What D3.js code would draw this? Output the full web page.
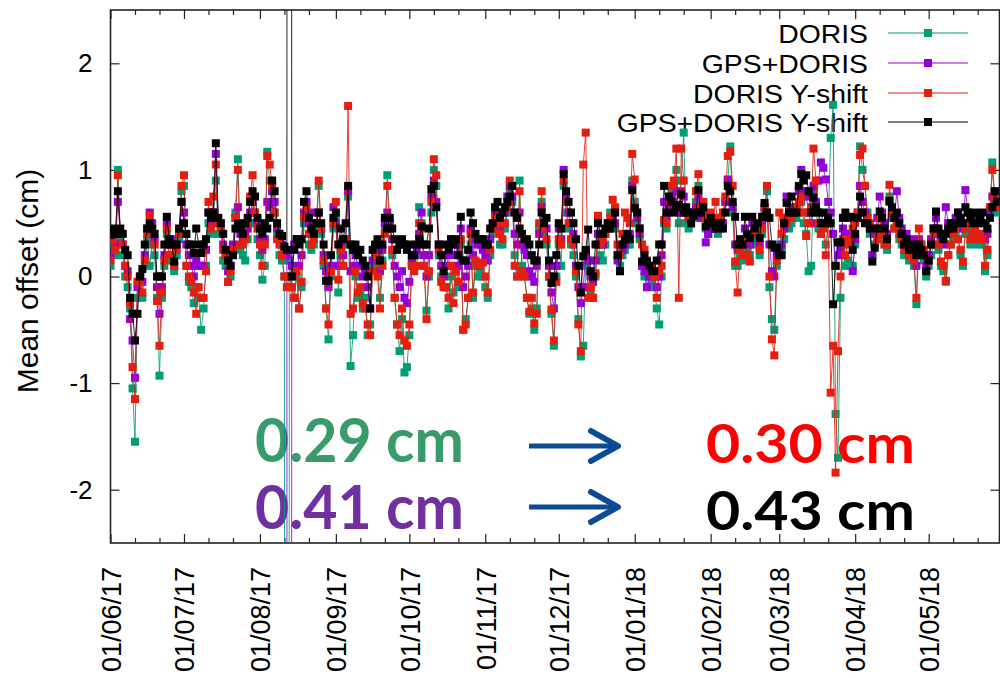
<!DOCTYPE html>
<html lang="en">
<head>
<meta charset="UTF-8">
<script src="https://d3js.org/d3.v7.min.js"></script>
<style>
  body { margin: 0; background: #fff; }
  svg { display: block; font-family: 'Liberation Sans', Arial, sans-serif; }
</style>
</head>
<body>
<div id="chart"></div>
<script>
// one value per day, first day is 01/06/17
const firstDay = Date.UTC(2017, 5, 1);
const lastVisible = Date.UTC(2018, 4, 29, 22);

const doris = [
  0.1, 0.3, 0.2, 1.0, 0.35, 0.2, 0, -0.1, -0.3, -1.05,
  -1.55, -0.2, -0.05, -0.2, 0.1, 0.35, 0.1, 0.3, 0.2, -0.2,
  -0.93, -0.2, 0.1, 0.4, 0.15, 0.2, 0.05, 0.2, 0.35, 0.8,
  0.85, 0.1, -0.05, -0.1, -0.25, -0.1, -0.2, -0.5, -0.3, 0.1,
  0.5, 0.4, 0.55, 0.9, 0.4, 0.45, 0.15, 0.1, -0.05, 0,
  0.25, 0.6, 1.1, 0.25, 0.2, 0.15, 0.35, 0.5, 0.7, 0.5,
  0.35, 0.2, -0.03, 0.1, 1.17, 0.9, 0.8, 0.6, 0.4, 0.2,
  0.15, 0, -60, 0.15, -0.1, -0.2, 0, -0.3, -0.1, 0.5,
  0.6, 0.3, 0.25, 0.3, 0.45, 0.85, 0.4, 0.1, -0.3, -0.59,
  0, 0.45, 0.55, -0.15, 0.2, 0.1, 0.3, 0.75, -0.84, -0.55,
  0, -0.2, -0.15, -0.3, -0.2, -0.55, -0.45, 0.1, 0.2, 0.1,
  -0.2, 0.15, 0.45, 0.95, 0.5, 0.2, -0.2, -0.45, -0.7, -0.4,
  -0.9, -0.85, -0.55, 0.1, 0.1, 0.2, 0.65, 0.5, 0.1, -0.32,
  0, 0.6, 1.0, 0.85, 0.2, 0, -0.1, -0.1, -0.3, 0,
  -0.15, 0.1, -0.1, 0.3, -0.5, -0.4, -0.2, 0.3, -0.2, 0.1,
  0, 0.05, 0, -0.1, -0.2, 0.2, 0.4, 0.5, 0.45, 0.3,
  0.3, 0.45, 0.6, 0.8, 0.7, 0.2, 0, 0.9, 0.1, 0,
  -0.2, -0.35, -0.3, -0.5, -0.3, 0.45, 0.7, 0.4, 0.3, 0,
  -0.35, -0.65, 0, 0.3, 0.1, 0.85, 0.6, 0.45, 0.3, 0.2,
  0, -0.4, -0.75, -0.65, 0.1, -0.1, -0.15, -0.2, 0, 0.3,
  0.2, 0.15, 0.3, 0.5, 0.6, 0.55, 0.45, 0.2, 0.1, 0.2,
  0.25, 0.3, 0.3, 0.9, 0.7, 0.5, 0.35, 0.1, 0, -0.1,
  0, -0.05, -0.1, -0.3, -0.45, 0, 0.5, 0.45, 0.6, 0.8,
  0.85, 1.0, 0.5, 0.9, 1.35, 0.5, 0.45, 0.5, 0.55, 0.7,
  0.85, 0.55, 0.6, 0.45, 0.4, 0.5, 0.45, 0.55, 0.4, 0.45,
  0.5, 0.7, 0.9, 1.22, 0.6, 0.1, 0.1, 0.2, 0.15, 0.3,
  0.25, 0.2, 0.35, 0.3, 0.35, 0.2, 0.4, 0.6, 0.8, -0.1,
  -0.4, -0.5, 0.1, 0.3, 0.25, 0.35, 0.5, 0.45, 0.5, 0.55,
  0.55, 0.6, 0.7, 0.5, 0.4, 0.05, 0.1, 0.8, 0.6, 0.45,
  0.4, 0.5, 0.3, 0.5, 1.3, 1.61, -1.29, -1.7, -0.2, 0.3,
  0.1, 0.15, 0.1, 0.1, 0.3, 0.6, 1.22, 1.0, 0.85, 0.6,
  0.4, 0.2, 0.3, 0.4, 0.45, 0.35, 0.3, 0.25, 0.75, 0.55,
  0.45, 0.5, 0.35, 0.3, 0.2, 0.25, 0.15, 0.2, 0.1, -0.26,
  0.3, 0.2, 0.15, 0, 0.1, 0.2, 0.3, 0.4, 0.25, 0.1,
  0.05, -0.05, 0.2, 0.3, 0.35, 0.4, 0.35, 0.2, 0.1, 0.4,
  0.45, 0.3, 0.35, 0.4, 0.3, 0.35, 0.3, 0.05, 0.2, 0.6,
  1.07, 0.7, 0.6
];

const gpsDoris = [
  0.2, 0.35, 0.3, 0.7, 0.4, 0.3, 0.1, 0.05, -0.4, -0.6,
  -0.95, -0.1, 0, -0.05, 0.2, 0.45, 0.6, 0.5, 0.35, -0.1,
  -0.35, -0.1, 0.2, 0.5, 0.3, 0.35, 0.1, 0.3, 0.4, 0.7,
  0.6, 0.3, 0.2, 0.1, 0, 0.15, 0.1, 0.1, 0.1, 0.25,
  0.6, 0.5, 0.6, 1.15, 0.5, 0.5, 0.3, 0.2, 0.05, 0.1,
  0.3, 0.55, 0.65, 0.4, 0.35, 0.4, 0.45, 0.6, 0.7, 0.6,
  0.5, 0.35, 0.25, 0.35, 0.7, 0.65, 0.8, 0.7, 0.45, 0.35,
  0.3, 0.2, 0.2, -60, 0.1, 0.3, 0.35, 0.1, 0.2, 0.6,
  0.7, 0.5, 0.6, 0.5, 0.5, 0.6, 0.45, 0.2, 0.05, -0.1,
  0.1, 0.65, 0.5, 0.1, 0.3, 0.2, 0.35, 0.8, 0.05, 0.1,
  0.2, 0.1, 0.1, 0, 0.05, -0.1, -0.3, 0.15, 0.25, 0.25,
  0.05, 0.25, 0.5, 0.6, 0.5, 0.35, 0.1, 0, -0.1, 0.05,
  -0.2, -0.25, -0.05, 0.15, 0.2, 0.25, 0.4, 0.6, 0.2, 0,
  0.2, 0.75, 0.9, 0.7, 0.3, 0.1, 0, 0.2, 0.1, 0.35,
  0.2, 0.3, 0.1, 0.45, -0.1, 0, 0.1, 0.45, 0.2, 0.35,
  0.3, 0.3, 0.25, 0.2, 0.15, 0.35, 0.45, 0.6, 0.6, 0.45,
  0.5, 0.6, 0.75, 0.85, 0.75, 0.4, 0.3, 0.6, 0.3, 0.25,
  0.2, 0.05, 0, -0.05, 0.1, 0.4, 0.65, 0.5, 0.45, 0.1,
  -0.15, -0.3, 0.1, 0.45, 0.35, 1.0, 0.75, 0.6, 0.5, 0.4,
  0.1, -0.1, -0.25, -0.1, 0.2, 0.15, 0, -0.05, 0.15, 0.4,
  0.35, 0.3, 0.4, 0.45, 0.5, 0.55, 0.5, 0.15, 0.05, 0.25,
  0.3, 0.35, 0.4, 0.85, 0.65, 0.55, 0.4, 0.1, 0.05, -0.1,
  0, 0.05, 0, -0.1, 0, 0.2, 0.7, 0.55, 0.65, 0.75,
  0.7, 0.8, 0.6, 0.8, 0.75, 0.6, 0.55, 0.5, 0.6, 0.65,
  0.75, 0.55, 0.6, 0.32, 0.4, 0.5, 0.45, 0.5, 0.45, 0.5,
  0.5, 0.7, 0.91, 0.85, 0.65, 0.3, 0.25, 0.3, 0.3, 0.45,
  0.35, 0.3, 0.5, 0.45, 0.5, 0.3, 0.5, 0.65, 0.6, 0.3,
  0.05, 0, 0.2, 0.25, 0.3, 0.45, 0.75, 0.6, 0.65, 0.6,
  0.65, 0.8, 1.0, 0.8, 0.75, 0.6, 0.5, 0.85, 0.7, 0.9,
  1.07, 1.02, 0.91, 0.7, 0.6, 0.4, 0.1, 0.2, 0.25, 0.45,
  0.4, 0.4, 0.35, 0.05, 0.35, 0.55, 0.85, 0.7, 0.6, 0.55,
  0.45, 0.2, 0.4, 0.55, 0.75, 0.6, 0.5, 0.4, 0.7, 0.6,
  0.55, 0.8, 0.55, 0.45, 0.3, 0.4, 0.3, 0.35, 0.2, 0.1,
  0.35, 0.3, 0.2, 0.1, 0.2, 0.35, 0.45, 0.55, 0.4, 0.35,
  0.3, 0.65, 0.5, 0.45, 0.5, 0.55, 0.6, 0.5, 0.45, 0.81,
  0.6, 0.5, 0.55, 0.55, 0.5, 0.55, 0.5, 0.35, 0.4, 0.6,
  0.75, 0.8, 0.7
];

const dorisShift = [
  0.15, 0.35, 0.25, 0.95, 0.4, 0.3, 0.1, 0, -0.25, -0.85,
  -1.15, -0.05, -0.05, -0.15, 0.15, 0.4, 0.57, 0.45, 0.3, -0.23,
  -0.65, -0.15, 0.15, 0.45, 0.2, 0.3, 0.1, 0.25, 0.4, 0.85,
  0.95, 0.1, 0, -0.05, -0.15, -0.35, -0.1, -0.2, -0.2, 0.05,
  0.7, 0.45, 0.75, 1.05, 0.5, 0.45, 0.25, 0.2, -0.05, 0.05,
  0.25, 0.55, 1.0, 0.3, 0.3, 0.35, 0.5, 0.75, 0.95, 0.6,
  0.45, 0.3, 0.1, 0.3, 1.13, 1.05, 0.85, 0.6, 0.35, 0.3,
  0.2, 0, -0.1, 0, -0.1, -0.2, 0.05, -0.3, -0.05, 0.55,
  0.65, 0.4, 0.3, 0.35, 0.5, 0.9, 0.45, 0.15, -0.3, -0.45,
  0.05, 0.5, 0.7, -0.03, 0.25, 0.1, 0.35, 1.6, -0.35, -0.3,
  0.05, -0.15, -0.1, -0.25, -0.3, -0.45, -0.55, 0.05, 0.2, 0,
  -0.3, 0.1, 0.4, 0.85, 0.45, 0.25, -0.2, -0.45, -0.55, -0.3,
  -0.6, -0.65, -0.45, 0.1, 0.05, 0.1, 0.5, 0.45, 0.1, -0.4,
  0.05, 0.7, 1.1, 0.95, 0.25, -0.05, -0.1, -0.1, -0.2, 0.1,
  -0.25, 0.05, -0.05, 0.35, -0.5, -0.45, -0.2, 0.4, -0.15, 0.15,
  0.1, 0.1, 0.13, 0, -0.15, 0.25, 0.45, 0.55, 0.5, 0.4,
  0.35, 0.5, 0.65, 0.9, 0.85, 0.1, 0, 0.8, 0.05, 0,
  -0.2, -0.33, -0.2, -0.44, -0.35, 0.5, 0.8, 0.45, 0.35, 0,
  -0.31, -0.6, -0.05, 0.35, 0.3, 0.9, 0.7, 0.5, 0.35, 0.3,
  0.05, -0.45, -0.7, 1.05, 1.35, -0.2, -0.1, -0.2, 0.03, 0.57,
  0.3, 0.35, 0.4, 0.45, 0.55, 0.72, 0.65, 0.3, 0.2, 0.4,
  0.6, 0.55, 0.5, 1.15, 0.91, 0.6, 0.45, 0.3, 0.25, 0.15,
  0.1, 0.1, 0, -0.2, 0.05, 0.1, 0.53, 0.5, 0.7, 0.85,
  0.9, 1.2, -0.2, 1.2, 0.9, 0.6, 0.55, 0.5, 0.6, 0.8,
  0.96, 0.65, 0.7, 0.55, 0.5, 0.6, 0.55, 0.7, 0.45, 0.55,
  0.6, 0.75, 1.13, 1.17, 0.85, 0.14, -0.15, 0.25, 0.2, 0.35,
  0.2, 0.14, 0.4, 0.45, 0.4, 0.25, 0.45, 0.65, 0.85, 0,
  -0.59, -0.74, 0.15, 0.6, 0.4, 0.55, 0.5, 0.55, 0.55, 0.6,
  0.65, 0.7, 0.75, 0.6, 0.38, 0.5, 0.65, 1.2, 0.9, 0.5,
  0.4, 0.45, 0.2, 0.5, -1.09, -0.65, -1.84, -0.7, 0, 0.35,
  0.2, 0.3, 0.35, 0.45, 0.5, 0.6, 1.14, 1.2, 0.85, 0.55,
  0.5, 0.45, 0.45, 0.35, 0.55, 0.4, 0.3, 0.3, 0.86, 0.6,
  0.45, 0.5, 0.4, 0.35, 0.25, 0.3, 0.2, 0.25, 0.15, -0.2,
  0.45, 0.3, 0.25, 0.05, 0.15, 0.3, 0.4, 0.45, 0.3, 0.14,
  0.1, -0.04, 0.2, 0.3, 0.4, 0.45, 0.35, 0.25, 0.14, 0.45,
  0.5, 0.35, 0.4, 0.45, 0.35, 0.4, 0.35, 0.1, 0.25, 0.65,
  1.0, 0.75, 0.65
];

const gpsDorisShift = [
  0.39, 0.45, 0.4, 0.8, 0.45, 0.4, 0.25, 0.2, -0.2, -0.35,
  -0.6, -0.35, 0, 0.07, 0.3, 0.45, 0.5, 0.45, 0.4, 0,
  0, 0, 0.3, 0.56, 0.35, 0.3, 0.14, 0.3, 0.45, 0.7,
  0.5, 0.4, 0.3, 0.3, 0.22, 0.45, 0.3, 0.22, 0.3, 0.35,
  0.6, 0.55, 0.6, 1.25, 0.55, 0.5, 0.4, 0.25, 0.15, 0.1,
  0.2, 0.45, 0.5, 0.45, 0.4, 0.5, 0.55, 0.7, 0.8, 0.75,
  0.55, 0.45, 0.4, 0.5, 0.45, 0.55, 0.9, 0.8, 0.5, 0.4,
  0.38, 0.28, 0.25, 60, 0, 0.25, 0.35, 0.3, 0.35, 0.7,
  0.8, 0.55, 0.45, 0.4, 0.5, 0.6, 0.5, 0.3, -0.04, -0.04,
  0.2, 0.55, 0.6, 0.3, 0.45, 0.35, 0.5, 0.85, 0.3, 0.25,
  0.3, 0.2, 0.25, 0.15, 0.1, 0, -0.3, 0.25, 0.3, 0.35,
  0.15, 0.3, 0.55, 0.45, 0.55, 0.45, 0.35, 0.25, 0.3, 0.35,
  0.3, 0.25, 0.3, 0.2, 0.2, 0.3, 0.35, 0.47, 0.3, 0.3,
  0.45, 0.82, 0.85, 0.65, 0.3, 0.2, 0.05, 0.3, 0.25, 0.35,
  0.3, 0.35, 0.2, 0.56, 0.15, 0.15, 0.25, 0.6, 0.5, 0.4,
  0.35, 0.35, 0.35, 0.3, 0.3, 0.45, 0.5, 0.65, 0.7, 0.55,
  0.6, 0.65, 0.7, 0.75, 0.85, 0.6, 0.55, 0.45, 0.4, 0.35,
  0.35, 0.3, 0.2, 0.15, 0.15, 0.3, 0.6, 0.5, 0.55, 0.15,
  -0.06, 0, 0.2, 0.5, 0.45, 0.96, 0.8, 0.7, 0.6, 0.5,
  0.35, 0.1, -0.15, 0.19, 0.25, 0.44, 0.05, 0, 0.3, 0.5,
  0.4, 0.4, 0.45, 0.5, 0.45, 0.5, 0.6, 0.2, 0.05, 0.3,
  0.35, 0.4, 0.35, 0.81, 0.64, 0.6, 0.45, 0.14, 0.2, 0.14,
  0.1, 0.05, 0.05, 0.15, 0.3, 0.3, 0.85, 0.6, 0.75, 0.7,
  0.6, 0.65, 0.67, 0.77, 0.6, 0.65, 0.6, 0.5, 0.57, 0.6,
  0.81, 0.6, 0.65, 0.47, 0.5, 0.55, 0.5, 0.45, 0.5, 0.5,
  0.45, 0.6, 0.85, 0.8, 0.7, 0.56, 0.3, 0.35, 0.3, 0.56,
  0.4, 0.36, 0.56, 0.45, 0.5, 0.36, 0.56, 0.69, 0.6, 0.55,
  0.3, 0.27, 0.27, 0.2, 0.2, 0.5, 0.69, 0.6, 0.75, 0.6,
  0.6, 0.85, 0.96, 0.9, 0.95, 0.8, 0.6, 0.74, 0.65, 0.6,
  0.5, 0.6, 0.5, 0.55, 0.5, -0.26, 0.1, 0.32, 0.32, 0.55,
  0.6, 0.55, 0.56, 0.25, 0.4, 0.55, 0.75, 0.6, 0.5, 0.5,
  0.45, 0.14, 0.27, 0.45, 0.61, 0.55, 0.45, 0.35, 0.71, 0.65,
  0.55, 0.6, 0.5, 0.4, 0.3, 0.35, 0.25, 0.3, 0.25, 0.2,
  0.3, 0.25, 0.2, 0.05, 0.15, 0.3, 0.45, 0.61, 0.45, 0.4,
  0.35, 0.4, 0.45, 0.5, 0.45, 0.5, 0.6, 0.55, 0.5, 0.65,
  0.6, 0.55, 0.5, 0.6, 0.5, 0.55, 0.6, 0.5, 0.45, 0.55,
  0.65, 0.8, 0.7
];

const seriesNames = ["DORIS", "GPS+DORIS", "DORIS Y-shift", "GPS+DORIS Y-shift"];
const seriesColors = ["#009e73", "#9400d3", "#e51e10", "#000000"];
const seriesValues = [doris, gpsDoris, dorisShift, gpsDorisShift];
const yTicks = [-2, -1, 0, 1, 2];

// the four RMS numbers written over the plot
const noteTexts = ["0.29 cm", "0.41 cm", "0.30 cm", "0.43 cm"];
const noteColors = ["#379c69", "#7030a0", "#ff0000", "#000000"];

const width = 1000, height = 678;
const pLeft = 110.5, pRight = 999.5, pTop = 10, pBottom = 543;

const svg = d3.select("#chart").append("svg")
    .attr("width", width)
    .attr("height", height);

const x = d3.scaleUtc()
    .domain([new Date(firstDay), new Date(lastVisible)])
    .range([pLeft, pRight]);

const y = d3.scaleLinear()
    .domain([-2.5, 2.5])
    .range([pBottom, pTop]);

svg.append("defs").append("clipPath")
    .attr("id", "plot-clip")
  .append("rect")
    .attr("x", pLeft)
    .attr("y", pTop)
    .attr("width", pRight - pLeft)
    .attr("height", pBottom - pTop);

// axes, ticks pointing inwards like gnuplot
const monthTicks = x.ticks(d3.utcMonth.every(1));
const minorTicks = x.ticks(d3.utcDay.filter(d => d.getUTCDate() === 11 || d.getUTCDate() === 21));

const xAxis = svg.append("g")
    .attr("transform", `translate(0,${pBottom})`)
    .call(d3.axisBottom(x).tickValues(monthTicks).tickSize(-9).tickPadding(24)
        .tickFormat(d3.utcFormat("%d/%m/%y")));

xAxis.selectAll("text")
    .attr("transform", "rotate(-90)")
    .attr("x", -24)
    .attr("y", 0)
    .attr("dy", "0.36em")
    .attr("text-anchor", "end")
    .attr("font-size", 27)
    .attr("font-family", "'Liberation Sans', Arial, sans-serif")
    .attr("fill", "#000");

svg.append("g")
    .attr("transform", `translate(0,${pBottom})`)
    .call(d3.axisBottom(x).tickValues(minorTicks).tickSize(-5).tickFormat(""));

svg.append("g")
    .attr("transform", `translate(0,${pTop})`)
    .call(d3.axisTop(x).tickValues(monthTicks).tickSize(-9).tickFormat(""));

svg.append("g")
    .attr("transform", `translate(0,${pTop})`)
    .call(d3.axisTop(x).tickValues(minorTicks).tickSize(-5).tickFormat(""));

svg.append("g")
    .attr("transform", `translate(${pLeft},0)`)
    .call(d3.axisLeft(y).tickValues(yTicks).tickSize(-9).tickPadding(18).tickFormat(d => String(d)))
    .selectAll("text")
    .attr("font-size", 26)
    .attr("font-family", "'Liberation Sans', Arial, sans-serif")
    .attr("fill", "#000");

svg.append("g")
    .attr("transform", `translate(${pRight},0)`)
    .call(d3.axisRight(y).tickValues(yTicks).tickSize(-9).tickFormat(""));

svg.selectAll(".domain").remove();
svg.selectAll(".tick line").attr("stroke", "#222").attr("stroke-width", 1.2);

svg.append("rect")
    .attr("x", pLeft)
    .attr("y", pTop)
    .attr("width", pRight - pLeft)
    .attr("height", pBottom - pTop)
    .attr("fill", "none")
    .attr("stroke", "#222")
    .attr("stroke-width", 1.6);

svg.append("text")
    .attr("transform", "translate(38,281) rotate(-90)")
    .attr("text-anchor", "middle")
    .attr("font-size", 30)
    .text("Mean offset (cm)");

// annotations (drawn under the data, as in the original)
const notes = svg.append("g")
    .attr("font-family", "Lato, 'Open Sans', sans-serif")
    .attr("font-weight", 700);
const notePos = [[255, 462, 61], [255, 529, 61], [706, 463, 53], [706, 530, 53]];
noteTexts.forEach((t, i) => {
    notes.append("text")
        .attr("x", notePos[i][0])
        .attr("y", notePos[i][1])
        .attr("font-size", notePos[i][2])
        .attr("textLength", 209)
        .attr("lengthAdjust", "spacingAndGlyphs")
        .attr("fill", noteColors[i])
        .text(t);
});

[446, 507].forEach(ay => {
    const a = svg.append("g")
        .attr("stroke", "#0b4b96")
        .attr("fill", "none")
        .attr("stroke-linecap", "round")
        .attr("stroke-linejoin", "round");
    a.append("line")
        .attr("x1", 529).attr("x2", 616)
        .attr("y1", ay).attr("y2", ay)
        .attr("stroke-width", 5)
        .attr("stroke-linecap", "butt");
    a.append("path")
        .attr("d", `M591,${ay - 15} L618,${ay} L591,${ay + 15}`)
        .attr("stroke-width", 6);
});

// key
const key = svg.append("g");
const keyRows = [33, 63, 93, 122];
seriesNames.forEach((name, i) => {
    key.append("g")
        .attr("transform", `translate(868,${keyRows[i]}) scale(1.07,1)`)
      .append("text")
        .attr("text-anchor", "end")
        .attr("dy", "0.36em")
        .attr("font-size", 26.5)
        .text(name);
    key.append("line")
        .attr("x1", 888).attr("x2", 968)
        .attr("y1", keyRows[i]).attr("y2", keyRows[i])
        .attr("stroke", seriesColors[i])
        .attr("stroke-width", 1);
    key.append("rect")
        .attr("x", 928 - 4).attr("y", keyRows[i] - 4)
        .attr("width", 8).attr("height", 8)
        .attr("fill", seriesColors[i]);
});

// series: line then points, later series on top
const plot = svg.append("g").attr("clip-path", "url(#plot-clip)");
const dayOf = i => d3.utcDay.offset(new Date(firstDay), i);

seriesValues.forEach((vals, s) => {
    const pts = vals.map((v, i) => ({date: dayOf(i), value: v}));
    const line = d3.line()
        .x(d => x(d.date))
        .y(d => y(d.value));
    plot.append("path")
        .datum(pts)
        .attr("d", line)
        .attr("fill", "none")
        .attr("stroke", seriesColors[s])
        .attr("stroke-width", 1)
        .attr("stroke-opacity", 0.85);
    plot.append("g")
        .selectAll("rect")
        .data(pts)
        .join("rect")
        .attr("x", d => x(d.date) - 4)
        .attr("y", d => y(d.value) - 4)
        .attr("width", 8)
        .attr("height", 8)
        .attr("fill", seriesColors[s]);
});
</script>
</body>
</html>
